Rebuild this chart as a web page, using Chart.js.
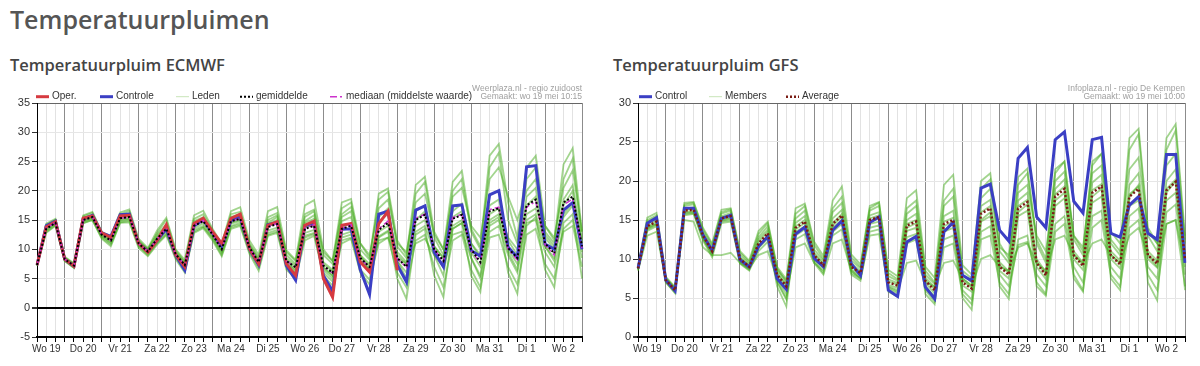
<!DOCTYPE html>
<html lang="nl">
<head>
<meta charset="utf-8">
<title>Temperatuurpluimen</title>
<script src="https://cdn.jsdelivr.net/npm/chart.js@4.4.0/dist/chart.umd.min.js"></script>
<style>
  body { margin: 0; background: #fff; width: 1200px; height: 366px; position: relative; overflow: hidden; }
  h1, h2 { position: absolute; margin: 0; font-family: 'Open Sans', sans-serif; font-weight: 600; }
  h1 { left: 10px; top: 4px; font-size: 25px; line-height: 30px; color: #555; }
  h2 { top: 55px; font-size: 16.5px; line-height: 20px; color: #444; }
  .grafiek { position: absolute; top: 80px; }
</style>
</head>
<body>
<h1>Temperatuurpluimen</h1>
<h2 style="left:10px">Temperatuurpluim ECMWF</h2>
<h2 style="left:613px">Temperatuurpluim GFS</h2>
<canvas id="ecmwf" class="grafiek" width="595" height="286" style="left:0"></canvas>
<canvas id="gfs" class="grafiek" width="595" height="286" style="left:600px"></canvas>
<script>
// dagen op de x-as (label staat op 12 uur), stappen van 6 uur vanaf wo 19 06:00
const dagen = ['Wo 19', 'Do 20', 'Vr 21', 'Za 22', 'Zo 23', 'Ma 24', 'Di 25', 'Wo 26',
  'Do 27', 'Vr 28', 'Za 29', 'Zo 30', 'Ma 31', 'Di 1', 'Wo 2', 'Do 3'];
const uren = ['00', '06', '12', '18'];
const tijden = [];
for (let i = 0; i < 60; i++) {
  tijden.push(dagen[Math.floor((i + 1) / 4)] + ' ' + uren[(i + 1) % 4] + ':00');
}

// ---- ECMWF ----
const ecOper = [7.3, 13.8, 14.7, 8.3, 7.1, 15.3, 15.7, 12.8, 12.0, 15.7, 15.8, 11.0, 9.5, 11.5, 14.2,
  9.1, 7.0, 14.4, 15.3, 13.0, 11.0, 15.3, 16.0, 10.1, 7.5, 14.1, 14.7, 7.5, 5.5, 14.1, 14.8, 5.0, 1.8,
  14.1, 14.4, 7.8, 6.1, 14.4, 16.5, 6.4];
const ecControle = [7.3, 14.0, 14.8, 8.3, 7.1, 15.2, 15.8, 12.8, 12.2, 15.9, 16.0, 11.0, 9.6, 11.5, 13.5,
  9.0, 6.4, 14.0, 15.0, 12.8, 10.5, 14.9, 15.5, 10.0, 7.3, 14.2, 14.6, 7.2, 4.7, 14.0, 14.5, 5.5, 2.8,
  13.4, 13.5, 6.5, 2.3, 16.0, 16.5, 7.3, 4.4, 16.7, 17.4, 9.5, 7.0, 17.4, 17.6, 9.8, 8.8, 19.3, 20.0,
  10.4, 8.6, 24.1, 24.3, 10.9, 10.0, 16.7, 18.0, 10.0];
const ecGemiddelde = [7.3, 13.5, 14.5, 8.3, 7.2, 15.0, 15.5, 12.5, 11.5, 15.3, 15.5, 11.0, 9.6, 11.8, 13.5,
  9.2, 7.3, 14.0, 14.8, 12.5, 10.0, 14.8, 15.2, 10.3, 7.8, 13.8, 14.3, 8.0, 6.9, 13.5, 14.0, 7.2, 6.0,
  13.5, 14.0, 8.5, 7.0, 13.3, 14.5, 8.5, 7.0, 15.0, 15.9, 10.0, 8.0, 15.2, 15.9, 10.0, 7.8, 16.5, 17.0,
  10.2, 8.5, 17.5, 18.5, 11.0, 9.3, 18.0, 19.0, 10.5];
const ecMediaan = [7.3, 13.6, 14.6, 8.3, 7.2, 15.0, 15.5, 12.5, 11.5, 15.3, 15.5, 11.0, 9.6, 11.8, 13.6,
  9.2, 7.3, 14.1, 14.9, 12.5, 10.0, 14.8, 15.3, 10.3, 7.8, 13.9, 14.4, 8.0, 6.9, 13.6, 14.2, 7.1, 5.9,
  13.6, 14.2, 8.4, 6.9, 13.5, 14.8, 8.4, 6.9, 15.3, 16.0, 10.0, 7.9, 15.4, 16.0, 9.8, 7.6, 16.8, 17.2,
  10.0, 8.2, 17.2, 18.2, 10.8, 9.0, 17.6, 18.6, 10.2];
const ecLeden = [
  [7.4, 14.2, 15.0, 8.6, 7.4, 15.6, 16.2, 12.8, 11.9, 16.0, 16.5, 11.5, 10.0, 12.8, 15.0, 9.8, 7.8, 15.2, 16.0, 13.2,
   10.8, 16.0, 16.4, 11.0, 8.5, 15.5, 16.2, 9.0, 7.5, 16.0, 16.8, 9.0, 7.5, 17.0, 18.0, 10.0, 8.2, 18.5, 19.8, 10.5,
   8.5, 19.5, 21.5, 12.0, 9.0, 20.0, 22.0, 13.0, 10.0, 24.0, 26.5, 15.0, 11.0, 22.0, 24.0, 13.0, 11.0, 22.0, 25.5, 12.0],
  [7.2, 12.8, 14.0, 8.0, 6.8, 14.4, 15.0, 12.0, 10.8, 14.6, 14.8, 10.5, 9.0, 11.0, 12.6, 8.6, 6.3, 13.0, 13.8, 11.8,
   9.0, 13.8, 14.2, 9.5, 6.8, 12.5, 13.0, 7.0, 5.8, 12.0, 12.6, 6.0, 4.5, 11.5, 12.0, 6.5, 4.8, 11.0, 12.0, 6.0,
   3.5, 11.5, 12.5, 7.0, 3.5, 11.5, 12.5, 6.5, 3.5, 12.0, 12.5, 7.0, 4.0, 12.5, 13.5, 7.5, 5.0, 13.0, 14.0, 7.0],
  [7.3, 13.8, 14.8, 8.4, 7.3, 15.2, 15.8, 12.6, 11.6, 15.5, 15.7, 11.2, 9.8, 12.0, 13.8, 9.4, 7.5, 14.5, 15.2, 12.8,
   10.3, 15.0, 15.6, 10.6, 8.0, 14.3, 15.0, 8.5, 7.2, 14.5, 15.2, 7.8, 6.5, 14.8, 15.5, 9.0, 7.5, 14.8, 16.0, 9.5,
   7.8, 16.5, 17.5, 10.5, 8.5, 16.5, 17.8, 11.0, 8.5, 17.5, 18.5, 11.5, 9.0, 19.0, 20.5, 12.0, 10.0, 18.5, 21.0, 11.0],
  [7.2, 13.2, 14.3, 8.2, 7.0, 14.8, 15.3, 12.3, 11.2, 15.0, 15.2, 10.8, 9.4, 11.5, 13.2, 9.0, 7.0, 13.6, 14.4, 12.2,
   9.6, 14.4, 14.8, 10.0, 7.4, 13.2, 13.7, 7.6, 6.5, 12.8, 13.3, 6.8, 5.5, 12.5, 13.0, 8.0, 6.5, 12.2, 13.2, 8.0,
   6.0, 13.0, 14.0, 9.5, 7.0, 13.5, 14.5, 9.5, 7.0, 14.0, 15.0, 10.0, 7.5, 15.0, 16.0, 10.5, 8.5, 15.5, 17.5, 10.0],
  [7.4, 14.0, 15.0, 8.5, 7.5, 15.4, 15.8, 12.9, 12.0, 15.6, 15.8, 11.3, 10.0, 12.5, 14.2, 9.5, 7.8, 14.8, 15.5, 13.0,
   10.5, 15.5, 16.0, 10.8, 8.3, 15.0, 15.8, 9.5, 8.0, 15.5, 16.5, 9.5, 8.0, 16.0, 17.2, 11.0, 9.0, 17.0, 18.5, 11.0,
   9.5, 18.0, 19.5, 12.5, 10.0, 19.0, 20.5, 14.0, 12.0, 22.0, 24.0, 19.0, 15.0, 20.0, 22.0, 14.0, 12.0, 20.5, 23.5, 13.0],
  [7.3, 13.3, 14.4, 8.1, 7.0, 14.7, 15.2, 12.2, 11.0, 14.8, 15.0, 10.6, 9.2, 11.2, 12.9, 8.8, 6.8, 13.3, 14.0, 12.0,
   9.4, 14.0, 14.5, 9.8, 7.2, 12.8, 13.3, 7.3, 6.0, 12.3, 12.8, 6.5, 5.0, 12.0, 12.5, 8.0, 6.5, 11.5, 12.0, 8.5,
   7.5, 11.0, 11.8, 9.0, 7.0, 12.5, 13.0, 8.5, 5.5, 13.0, 14.0, 9.0, 6.0, 14.5, 15.0, 9.5, 7.0, 13.5, 15.0, 8.5],
  [7.3, 13.6, 14.6, 8.4, 7.2, 15.1, 15.6, 12.5, 11.4, 15.4, 15.6, 11.0, 9.5, 11.8, 13.6, 9.0, 6.8, 14.2, 15.0, 12.4,
   9.8, 15.2, 15.8, 10.5, 7.5, 14.5, 15.5, 8.0, 6.2, 14.8, 15.8, 7.0, 5.5, 15.5, 16.5, 9.0, 6.5, 15.5, 17.0, 8.0,
   5.0, 15.0, 16.5, 9.0, 5.5, 15.5, 16.5, 8.5, 5.0, 16.0, 17.0, 9.5, 6.5, 17.5, 19.0, 10.5, 8.0, 17.5, 20.0, 9.5],
  [7.4, 14.4, 15.2, 8.7, 7.6, 15.8, 16.4, 13.0, 12.2, 16.3, 16.8, 11.8, 10.2, 13.2, 15.4, 10.0, 8.2, 15.8, 16.6, 13.5,
   11.0, 16.5, 17.2, 11.5, 9.0, 16.5, 17.2, 9.8, 8.2, 17.5, 18.4, 10.0, 8.0, 18.0, 18.6, 11.0, 8.5, 19.5, 20.4, 11.5,
   9.0, 21.0, 22.4, 13.0, 10.0, 21.5, 23.4, 13.5, 10.5, 26.0, 28.0, 18.0, 12.0, 24.0, 26.0, 14.0, 11.5, 24.5, 27.3, 13.0],
  [7.2, 13.0, 14.1, 8.0, 6.8, 14.5, 15.0, 11.8, 10.5, 14.5, 14.6, 10.2, 8.8, 10.8, 12.4, 8.3, 6.0, 12.8, 13.6, 11.5,
   8.8, 13.5, 14.0, 9.2, 6.3, 12.3, 12.8, 6.5, 5.0, 11.5, 12.3, 5.5, 3.8, 11.0, 11.8, 6.0, 4.0, 12.0, 13.0, 5.0,
   1.5, 12.5, 13.5, 5.5, 1.8, 13.5, 14.5, 5.5, 2.7, 14.5, 15.5, 6.0, 2.4, 14.0, 15.5, 6.5, 3.5, 14.5, 16.0, 5.0],
  [7.3, 13.7, 14.7, 8.3, 7.1, 15.0, 15.4, 12.7, 11.8, 15.2, 15.3, 11.2, 9.8, 12.2, 13.9, 9.3, 7.2, 14.3, 15.0, 12.6,
   10.2, 14.6, 15.0, 10.4, 7.6, 14.0, 14.6, 8.2, 6.8, 13.8, 14.2, 7.5, 6.2, 13.8, 14.4, 8.6, 7.2, 13.0, 14.0, 9.0,
   7.5, 14.0, 15.0, 10.5, 8.5, 14.0, 15.0, 11.0, 9.0, 15.0, 16.0, 12.0, 10.0, 16.0, 17.0, 12.5, 10.5, 16.0, 18.0, 11.5]
];

// ---- GFS ----
const gfsControl = [8.8, 14.6, 15.3, 7.3, 5.9, 16.5, 16.5, 13.1, 11.1, 15.2, 15.6, 9.9, 9.0, 11.6, 12.9,
  7.5, 6.1, 13.2, 14.1, 10.1, 9.0, 13.7, 14.9, 9.4, 7.9, 14.7, 15.4, 6.0, 5.2, 12.2, 12.9, 6.4, 4.9,
  13.5, 14.7, 7.9, 7.2, 19.1, 19.6, 13.7, 12.3, 22.9, 24.3, 15.4, 14.0, 25.3, 26.3, 17.4, 15.9, 25.3, 25.6,
  13.3, 12.8, 16.9, 18.0, 13.3, 12.5, 23.4, 23.4, 9.5];
const gfsAverage = [8.8, 14.2, 14.8, 7.3, 6.0, 16.2, 16.3, 13.0, 11.0, 15.2, 15.5, 10.0, 9.0, 12.0, 13.3,
  8.0, 6.5, 14.0, 14.8, 10.5, 9.2, 14.5, 15.6, 9.0, 8.2, 15.0, 15.4, 7.0, 6.6, 14.3, 14.8, 7.2, 6.0,
  14.5, 15.0, 7.0, 6.2, 15.8, 16.5, 9.0, 8.0, 16.5, 17.3, 9.5, 7.9, 18.0, 19.0, 10.5, 9.1, 18.5, 19.3,
  10.5, 9.3, 18.0, 19.0, 10.5, 9.4, 18.8, 19.9, 10.0];
const gfsMembers = [
  [9.0, 15.0, 15.6, 7.6, 6.2, 17.0, 17.2, 13.8, 11.8, 16.0, 16.4, 10.8, 9.6, 13.2, 14.6, 8.8, 7.0, 15.8, 16.8, 11.8,
   10.0, 16.5, 18.0, 10.2, 9.0, 16.5, 17.2, 8.2, 7.4, 16.5, 17.5, 8.5, 7.0, 17.5, 19.0, 8.5, 7.5, 19.0, 20.2, 11.0,
   9.5, 19.5, 21.0, 12.0, 9.5, 21.0, 22.5, 12.5, 10.5, 22.0, 23.5, 12.0, 10.5, 24.0, 26.0, 13.0, 11.0, 24.0, 26.5, 12.0],
  [8.6, 13.6, 14.2, 7.0, 5.6, 15.6, 15.8, 12.4, 10.2, 14.6, 14.8, 9.4, 8.5, 11.0, 12.2, 7.0, 4.8, 12.5, 13.2, 9.5,
   8.5, 13.0, 13.8, 8.0, 7.2, 13.5, 13.8, 5.8, 5.2, 12.0, 12.5, 6.0, 4.5, 11.5, 12.0, 5.5, 4.2, 12.5, 13.0, 7.0,
   5.5, 12.5, 13.0, 7.0, 5.5, 13.5, 14.5, 8.0, 6.0, 14.0, 15.0, 8.0, 6.5, 14.0, 15.0, 8.0, 6.0, 14.5, 15.0, 6.5],
  [8.8, 14.5, 15.1, 7.4, 6.1, 16.5, 16.6, 13.2, 11.2, 15.5, 15.9, 10.2, 9.2, 12.5, 13.8, 8.3, 6.7, 14.6, 15.5, 10.8,
   9.5, 15.2, 16.3, 9.4, 8.5, 15.6, 16.0, 7.4, 6.9, 15.0, 15.8, 7.6, 6.4, 15.5, 16.2, 7.5, 6.6, 16.8, 17.6, 9.6,
   8.4, 17.5, 18.5, 10.0, 8.3, 19.0, 20.2, 11.0, 9.5, 19.8, 20.8, 11.0, 9.8, 19.5, 21.0, 11.0, 9.8, 20.0, 21.5, 10.5],
  [8.7, 13.9, 14.5, 7.2, 5.9, 15.9, 16.0, 12.8, 10.8, 14.9, 15.2, 9.8, 8.8, 11.6, 12.8, 7.7, 6.2, 13.5, 14.2, 10.2,
   9.0, 14.0, 15.0, 8.7, 7.9, 14.5, 14.8, 6.7, 6.3, 13.6, 14.0, 6.9, 5.6, 13.5, 14.0, 6.6, 5.8, 14.8, 15.5, 8.5,
   7.5, 15.5, 16.2, 9.0, 7.4, 16.8, 17.8, 10.0, 8.6, 17.2, 18.0, 10.0, 8.8, 16.8, 17.5, 10.0, 8.9, 17.5, 18.5, 9.5],
  [8.9, 14.8, 15.4, 7.5, 6.3, 16.8, 17.0, 13.5, 11.5, 15.8, 16.2, 10.5, 9.4, 12.8, 14.2, 8.6, 7.2, 15.2, 16.2, 11.2,
   9.8, 16.0, 17.2, 9.8, 8.8, 16.2, 16.8, 7.8, 7.2, 15.8, 16.8, 8.0, 6.8, 16.8, 18.0, 8.0, 7.0, 17.8, 19.0, 11.5,
   10.5, 18.5, 19.5, 13.0, 11.0, 20.0, 21.2, 13.0, 11.5, 21.0, 22.0, 13.5, 12.0, 21.5, 23.0, 13.5, 12.0, 22.0, 23.5, 12.5],
  [8.5, 13.0, 13.5, 7.2, 6.0, 15.0, 14.8, 11.5, 10.5, 10.5, 10.8, 9.5, 8.8, 10.5, 11.0, 7.5, 5.5, 11.5, 12.0, 9.5,
   8.0, 12.0, 12.5, 8.5, 7.5, 13.0, 13.2, 6.5, 6.0, 9.5, 9.8, 7.0, 6.5, 9.5, 9.8, 7.5, 6.5, 10.0, 10.5, 9.0,
   8.5, 11.5, 12.0, 9.5, 8.5, 12.5, 13.0, 10.5, 9.5, 12.0, 12.5, 10.5, 9.5, 13.0, 14.0, 10.5, 9.0, 14.5, 15.0, 9.0],
  [8.7, 14.0, 14.6, 7.0, 5.7, 16.0, 16.1, 12.6, 10.5, 15.0, 15.3, 9.5, 8.6, 11.8, 13.0, 6.5, 3.9, 13.8, 14.6, 9.8,
   8.2, 14.3, 15.4, 8.2, 7.5, 14.8, 15.2, 6.2, 5.6, 14.0, 14.6, 5.5, 4.2, 14.2, 14.8, 5.0, 3.5, 15.0, 16.0, 6.5,
   4.9, 16.0, 17.0, 6.5, 5.3, 17.5, 18.5, 7.5, 5.8, 18.0, 19.0, 7.5, 6.0, 18.0, 19.5, 7.0, 4.7, 18.5, 20.0, 6.0],
  [9.0, 15.3, 15.9, 7.7, 6.4, 17.2, 17.3, 14.0, 12.0, 16.3, 16.5, 11.0, 9.8, 13.6, 14.8, 9.0, 7.4, 16.5, 17.1, 12.2,
   10.4, 17.5, 19.3, 10.6, 9.3, 16.8, 17.3, 8.6, 7.8, 17.8, 18.8, 9.0, 7.6, 19.5, 20.8, 9.2, 8.0, 20.0, 21.0, 12.0,
   10.0, 20.5, 21.6, 12.5, 10.0, 21.5, 22.5, 13.0, 11.0, 22.5, 23.5, 12.5, 11.0, 25.5, 26.7, 14.0, 12.0, 25.5, 27.3, 13.0],
  [8.8, 14.1, 14.9, 7.3, 6.0, 16.3, 16.4, 13.1, 11.1, 15.3, 15.6, 10.1, 9.1, 12.2, 13.5, 8.1, 6.6, 14.2, 15.0, 10.6,
   9.3, 14.6, 15.8, 9.1, 8.3, 15.2, 15.6, 7.1, 6.7, 14.5, 15.0, 7.3, 6.1, 14.8, 15.3, 7.2, 6.3, 16.0, 16.8, 9.2,
   8.2, 16.8, 17.6, 9.6, 8.0, 18.3, 19.3, 10.6, 9.2, 18.8, 19.6, 10.6, 9.4, 18.3, 19.3, 10.6, 9.5, 19.0, 20.2, 10.0],
  [8.7, 13.8, 14.4, 7.1, 5.8, 15.8, 15.9, 12.6, 10.6, 14.8, 15.0, 9.7, 8.7, 11.4, 12.6, 7.2, 5.0, 13.0, 13.8, 10.0,
   8.8, 13.5, 14.5, 8.5, 7.6, 14.0, 14.3, 6.4, 5.8, 12.8, 13.2, 6.5, 5.2, 12.5, 13.0, 6.0, 4.8, 13.5, 14.2, 8.0,
   6.5, 11.8, 12.2, 8.0, 6.5, 14.5, 15.5, 9.0, 7.0, 15.5, 16.2, 9.0, 7.5, 15.5, 16.5, 9.0, 7.5, 16.0, 17.0, 8.0]
];

Chart.defaults.font.family = '"Liberation Sans", Arial, sans-serif';
Chart.defaults.color = '#333';

const ledenKleur = 'rgba(70, 172, 30, 0.5)';

function lijn(label, data, kleur, breedte, streep) {
  return {
    label: label, data: data, borderColor: kleur, borderWidth: breedte,
    borderDash: streep || [], pointRadius: 0, tension: 0, fill: false
  };
}

// eigen legenda + bronvermelding bovenin, zoals op de site
const legendaBron = {
  id: 'legendaBron',
  afterDraw(chart, args, opts) {
    const ctx = chart.ctx;
    ctx.save();
    ctx.font = '10px "Liberation Sans", Arial, sans-serif';
    ctx.textBaseline = 'middle';
    opts.items.forEach(item => {
      const ds = chart.data.datasets.find(d => d.label === item.label);
      ctx.strokeStyle = item.kleur || ds.borderColor;
      ctx.lineWidth = item.breedte || ds.borderWidth;
      ctx.setLineDash(item.streep || ds.borderDash || []);
      ctx.beginPath();
      ctx.moveTo(item.x, opts.y);
      ctx.lineTo(item.x + 13, opts.y);
      ctx.stroke();
      ctx.setLineDash([]);
      ctx.fillStyle = '#333';
      ctx.fillText(item.label, item.x + 16, opts.y);
    });
    ctx.font = '8.5px "Liberation Sans", Arial, sans-serif';
    ctx.fillStyle = '#a0a0a0';
    ctx.textAlign = 'right';
    opts.bron.forEach((t, k) => ctx.fillText(t, chart.chartArea.right, opts.bronY[k]));
    ctx.restore();
  }
};

function maakGrafiek(id, datasets, ymin, ymax, yBreedte, rechts, legenda) {
  new Chart(document.getElementById(id), {
    type: 'line',
    data: { labels: tijden, datasets: datasets },
    options: {
      responsive: false,
      animation: false,
      events: [],
      layout: { padding: { left: 0, top: 23, right: rechts, bottom: 0 } },
      plugins: { legend: { display: false }, tooltip: { enabled: false }, legendaBron: legenda },
      scales: {
        x: {
          offset: false,
          grid: {
            offset: false,
            color: c => (c.index + 1) % 4 === 0 ? '#8c8c8c' : '#e2e2e2',
            tickColor: '#000',
            tickLength: 5
          },
          border: { color: '#000', width: 2 },
          ticks: {
            autoSkip: false, maxRotation: 0, padding: 1, font: { size: 10 }, color: '#333',
            callback: (v, i) => (i + 1) % 4 === 2 ? dagen[Math.floor((i + 1) / 4)] : ''
          },
          afterFit: s => { s.height = 29; }
        },
        y: {
          min: ymin, max: ymax,
          ticks: { stepSize: 5, padding: 2, font: { size: 11 }, color: '#333' },
          grid: {
            color: c => c.tick.value === ymax ? '#666' : (c.tick.value === 0 ? '#000' : '#e6e6e6'),
            lineWidth: c => c.tick.value === 0 ? 2 : 1,
            tickColor: '#333',
            tickLength: 5
          },
          border: { color: '#000', width: 1 },
          afterFit: s => { s.width = yBreedte; }
        }
      }
    },
    plugins: [legendaBron]
  });
}

// ECMWF: bovenste lijn eerst
const ecSets = [
  lijn('gemiddelde', ecGemiddelde, '#000', 2, [2, 2]),
  lijn('mediaan (middelste waarde)', ecMediaan, '#cc33cc', 1.5, [6, 3, 2, 3]),
  lijn('Oper.', ecOper, '#d63a40', 3),
  lijn('Controle', ecControle, '#3b3fc4', 3)
];
ecLeden.forEach(l => ecSets.push(lijn('Leden', l, ledenKleur, 1.8)));

maakGrafiek('ecmwf', ecSets, -5, 35, 37, 13, {
  y: 16.7,
  items: [
    { label: 'Oper.', x: 36 },
    { label: 'Controle', x: 100 },
    { label: 'Leden', x: 176, kleur: '#c8e4b8', breedte: 1 },
    { label: 'gemiddelde', x: 240 },
    { label: 'mediaan (middelste waarde)', x: 330, streep: [7, 3, 2, 3] }
  ],
  bron: ['Weerplaza.nl - regio zuidoost', 'Gemaakt: wo 19 mei 10:15'],
  bronY: [8.3, 16.7]
});

// GFS
const gfsSets = [
  lijn('Average', gfsAverage, '#7a1c14', 2.5, [2, 2]),
  lijn('Control', gfsControl, '#3b3fc4', 3)
];
gfsMembers.forEach(l => gfsSets.push(lijn('Members', l, ledenKleur, 1.8)));

maakGrafiek('gfs', gfsSets, 0, 30, 38, 10, {
  y: 16.7,
  items: [
    { label: 'Control', x: 39 },
    { label: 'Members', x: 109, kleur: '#c8e4b8', breedte: 1 },
    { label: 'Average', x: 186 }
  ],
  bron: ['Infoplaza.nl - regio De Kempen', 'Gemaakt: wo 19 mei 10:00'],
  bronY: [8.3, 16.7]
});
</script>
</body>
</html>
